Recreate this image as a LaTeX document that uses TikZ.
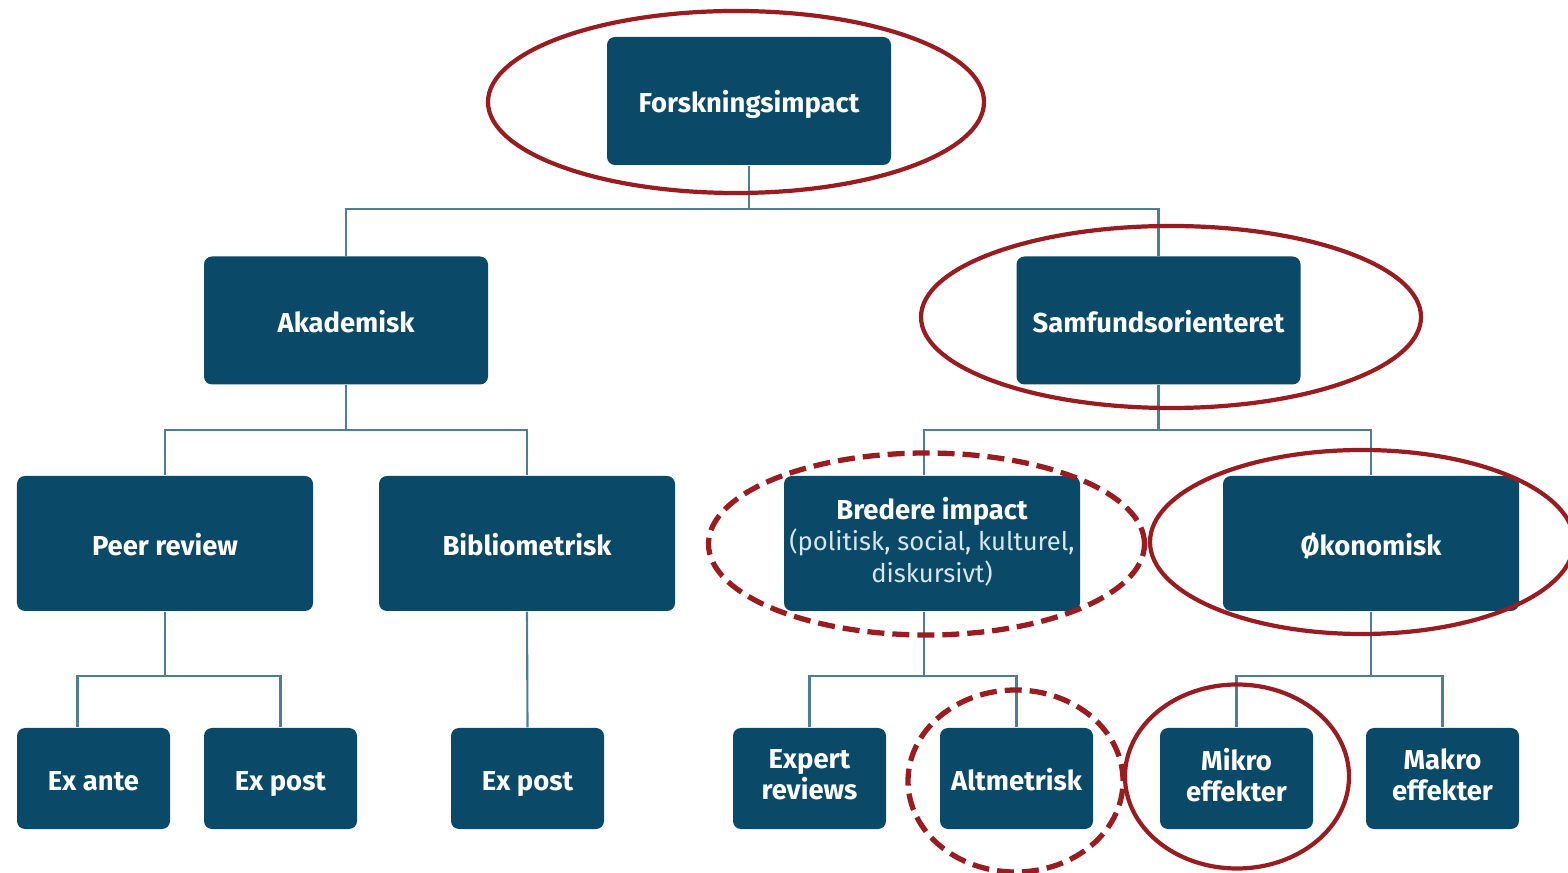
\documentclass[tikz,border=0pt]{standalone}
\usepackage{fontspec}
\setmainfont{Fira Sans}
\definecolor{boxblue}{RGB}{10,74,104}
\definecolor{linkblue}{RGB}{78,125,150}
\definecolor{ringred}{RGB}{155,28,32}
\definecolor{paletext}{RGB}{215,230,240}
\newcommand{\boxtop}{\rule[-2.2pt]{0pt}{11pt}}
\tikzstyle{box}=[rectangle,rounded corners=0.08cm,fill=boxblue,text=white,font=\fontsize{7.8}{8.9}\selectfont\bfseries,align=center,inner sep=0pt,
  execute at begin node=\boxtop]
\tikzstyle{bigbox}=[box,minimum width=2.84cm,minimum height=1.28cm]
\tikzstyle{midbox}=[box,minimum width=2.96cm,minimum height=1.35cm]
\tikzstyle{smallbox}=[box,minimum width=1.53cm,minimum height=1.01cm]
\tikzstyle{link}=[draw=linkblue,line width=0.6pt]
\tikzstyle{ring}=[draw=ringred,line width=1.2pt]
\tikzstyle{dashring}=[ring,line width=1.5pt,dash pattern=on 0.17cm off 0.08cm]
\newcommand{\subline}[1]{{\fontsize{7.3}{8.9}\selectfont\mdseries\color{paletext}#1}}

\begin{document}
\begin{tikzpicture}
\useasboundingbox (0,0) rectangle (15.68,-8.73);

\node[bigbox] (forsk) at (7.49, -1.01)   {Forskningsimpact};
\node[bigbox] (akad)  at (3.46, -3.205)  {Akademisk};
\node[bigbox] (samf)  at (11.585, -3.205) {Samfundsorienteret};

\node[midbox] (peer)    at (1.65, -5.435)  {Peer review};
\node[midbox] (biblio)  at (5.27, -5.435)  {Bibliometrisk};
\node[midbox] (bredere) at (9.32, -5.435)  {Bredere impact\\\subline{(politisk, social, kulturel,}\\\subline{diskursivt)}};
\node[midbox] (okon)    at (13.71, -5.435) {Økonomisk};

\node[smallbox] (exante)  at (0.935, -7.785)  {Ex ante};
\node[smallbox] (expost)  at (2.805, -7.785)  {Ex post};
\node[smallbox] (expostb) at (5.275, -7.785)  {Ex post};
\node[smallbox] (expert)  at (8.095, -7.785)  {Expert\\reviews};
\node[smallbox] (altm)    at (10.165, -7.785) {Altmetrisk};
\node[smallbox] (mikro)   at (12.365, -7.785) {Mikro\\effekter};
\node[smallbox] (makro)   at (14.425, -7.785) {Makro\\effekter};

\draw[link] (forsk.south) -- ++(0,-0.43) -| (akad.north);
\draw[link] (forsk.south) -- ++(0,-0.43) -| (samf.north);
\draw[link] (akad.south) -- ++(0,-0.45) -| (peer.north);
\draw[link] (akad.south) -- ++(0,-0.45) -| (biblio.north);
\draw[link] (samf.south) -- ++(0,-0.45) -| ([xshift=-0.08cm]bredere.north);
\draw[link] (samf.south) -- ++(0,-0.45) -| (okon.north);
\draw[link] (peer.south) -- ++(0,-0.64) -| ([xshift=-0.16cm]exante.north);
\draw[link] (peer.south) -- ++(0,-0.64) -| (expost.north);
\draw[link] (biblio.south) -- (expostb.north);
\draw[link] ([xshift=-0.08cm]bredere.south) -- ++(0,-0.64) -| (expert.north);
\draw[link] ([xshift=-0.08cm]bredere.south) -- ++(0,-0.64) -| (altm.north);
\draw[link] (okon.south) -- ++(0,-0.64) -| (mikro.north);
\draw[link] (okon.south) -- ++(0,-0.64) -| (makro.north);

\draw[ring] (7.36, -1.02) ellipse (2.48 and 0.91);
\draw[ring] (11.71, -3.17) ellipse (2.50 and 0.91);
\draw[dashring] (9.265, -5.44) ellipse (2.18 and 0.91);
\draw[ring] (13.62, -5.42) ellipse (2.12 and 0.92);
\draw[dashring] (10.155, -7.81) ellipse (1.075 and 0.91);
\draw[ring] (12.37, -7.765) ellipse (1.12 and 0.92);

\end{tikzpicture}
\end{document}
